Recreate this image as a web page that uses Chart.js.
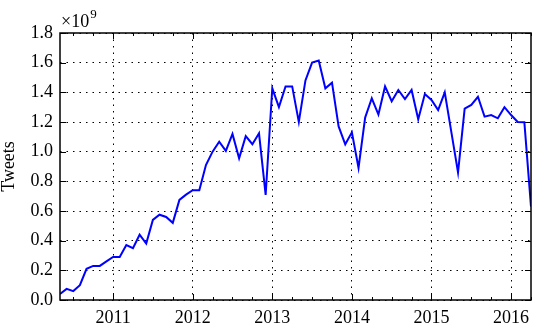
<!DOCTYPE html>
<html>
<head>
<meta charset="utf-8">
<script src="https://cdn.jsdelivr.net/npm/chart.js@4"></script>
<style>
  body { margin: 0; background: #fff; }
  #wrap { width: 550px; height: 336px; }
</style>
</head>
<body>
<div id="wrap"><canvas id="chart" width="550" height="336"></canvas></div>
<script>
// monthly tweet counts, in units of 1e9
const months = [
  '2010-05', '2010-06', '2010-07', '2010-08', '2010-09', '2010-10', '2010-11', '2010-12',
  '2011-01', '2011-02', '2011-03', '2011-04', '2011-05', '2011-06', '2011-07', '2011-08',
  '2011-09', '2011-10', '2011-11', '2011-12', '2012-01', '2012-02', '2012-03', '2012-04',
  '2012-05', '2012-06', '2012-07', '2012-08', '2012-09', '2012-10', '2012-11', '2012-12',
  '2013-01', '2013-02', '2013-03', '2013-04', '2013-05', '2013-06', '2013-07', '2013-08',
  '2013-09', '2013-10', '2013-11', '2013-12', '2014-01', '2014-02', '2014-03', '2014-04',
  '2014-05', '2014-06', '2014-07', '2014-08', '2014-09', '2014-10', '2014-11', '2014-12',
  '2015-01', '2015-02', '2015-03', '2015-04', '2015-05', '2015-06', '2015-07', '2015-08',
  '2015-09', '2015-10', '2015-11', '2015-12', '2016-01', '2016-02', '2016-03', '2016-04'
];
const tweets = [
  0.04, 0.075, 0.06, 0.10, 0.21, 0.23, 0.23, 0.26,
  0.29, 0.29, 0.37, 0.35, 0.44, 0.38, 0.54, 0.575,
  0.56, 0.52, 0.675, 0.71, 0.74, 0.74, 0.91, 1.0,
  1.067, 1.005, 1.12, 0.955, 1.105, 1.05, 1.124, 0.708,
  1.427, 1.30, 1.44, 1.44, 1.20, 1.48, 1.60, 1.614,
  1.427, 1.465, 1.17, 1.05, 1.13, 0.89, 1.23, 1.36,
  1.25, 1.44, 1.34, 1.416, 1.355, 1.416, 1.218, 1.389,
  1.349, 1.281, 1.40, 1.13, 0.86, 1.29, 1.315, 1.37,
  1.236, 1.247, 1.225, 1.30, 1.247, 1.20, 1.198, 0.63
];
const yearTicks = [2011, 2012, 2013, 2014, 2015, 2016];
const yTicks = [0, 0.2, 0.4, 0.6, 0.8, 1.0, 1.2, 1.4, 1.6, 1.8];

const FONT = "'Liberation Serif', 'DejaVu Serif', serif";

// month string -> decimal year
const toYear = (m) => {
  const [y, mo] = m.split('-').map(Number);
  return y + (mo - 1) / 12;
};
const points = months.map((m, i) => ({ x: toYear(m), y: tweets[i] }));
const xMin = toYear(months[0]);
const xMax = toYear(months[months.length - 1]);

// inward ticks on all four sides + frame, like the matplotlib classic look
const framePlugin = {
  id: 'frame',
  afterDatasetsDraw(chart) {
    const { ctx, chartArea: a, scales } = chart;
    const xs = scales.x, ys = scales.y;
    ctx.save();
    ctx.strokeStyle = '#000';
    ctx.lineWidth = 1;
    ctx.beginPath();
    // minor ticks each quarter
    for (let q = Math.ceil(xMin * 4); q <= Math.floor(xMax * 4); q++) {
      const v = q / 4;
      if (Number.isInteger(v)) continue;
      const px = Math.round(xs.getPixelForValue(v)) + 0.5;
      ctx.moveTo(px, a.bottom); ctx.lineTo(px, a.bottom - 3);
      ctx.moveTo(px, a.top); ctx.lineTo(px, a.top + 3);
    }
    yearTicks.forEach((v) => {
      const px = Math.round(xs.getPixelForValue(v)) + 0.5;
      ctx.moveTo(px, a.bottom); ctx.lineTo(px, a.bottom - 6);
      ctx.moveTo(px, a.top); ctx.lineTo(px, a.top + 6);
    });
    yTicks.forEach((v) => {
      const py = Math.round(ys.getPixelForValue(v)) + 0.5;
      ctx.moveTo(a.left, py); ctx.lineTo(a.left + 6, py);
      ctx.moveTo(a.right, py); ctx.lineTo(a.right - 6, py);
    });
    ctx.stroke();

    ctx.lineWidth = 1.5;
    ctx.strokeRect(a.left, a.top, a.right - a.left, a.bottom - a.top);

    // offset text for the y axis
    ctx.fillStyle = '#000';
    ctx.textBaseline = 'alphabetic';
    ctx.textAlign = 'left';
    ctx.font = '18px ' + FONT;
    ctx.fillText('\u00d710', a.left + 1, a.top - 6);
    const w = ctx.measureText('\u00d710').width;
    ctx.font = '13px ' + FONT;
    ctx.fillText('9', a.left + 1 + w + 1, a.top - 15);
    ctx.restore();
  }
};

const ctx = document.getElementById('chart').getContext('2d');
new Chart(ctx, {
  type: 'line',
  data: {
    datasets: [{
      data: points,
      borderColor: '#0000ff',
      borderWidth: 2,
      pointRadius: 0,
      tension: 0,
      fill: false,
    }],
  },
  options: {
    responsive: false,
    animation: false,
    layout: { padding: { top: 33, right: 19, left: 0, bottom: 0 } },
    plugins: {
      legend: { display: false },
      tooltip: { enabled: false },
    },
    scales: {
      x: {
        type: 'linear',
        min: xMin,
        max: xMax,
        afterBuildTicks: (scale) => {
          scale.ticks = yearTicks.map((v) => ({ value: v }));
        },
        afterFit: (scale) => { scale.height = 36; },
        ticks: {
          color: '#000',
          font: { family: FONT, size: 18 },
          padding: 7,
          maxRotation: 0,
          callback: (v) => String(v),
        },
        grid: { color: '#000', lineWidth: 1, drawTicks: false },
        border: { display: false, dash: [1.5, 5] },
      },
      y: {
        min: 0,
        max: 1.8,
        afterBuildTicks: (scale) => {
          scale.ticks = yTicks.map((v) => ({ value: v }));
        },
        afterFit: (scale) => { scale.width = 60; },
        ticks: {
          color: '#000',
          font: { family: FONT, size: 18 },
          padding: 7,
          callback: (v) => Number(v).toFixed(1),
        },
        title: {
          display: true,
          text: 'Tweets',
          color: '#000',
          font: { family: FONT, size: 18, lineHeight: 1.0 },
          padding: 0,
        },
        grid: { color: '#000', lineWidth: 1, drawTicks: false },
        border: { display: false, dash: [1.5, 5] },
      },
    },
  },
  plugins: [framePlugin],
});
</script>
</body>
</html>
